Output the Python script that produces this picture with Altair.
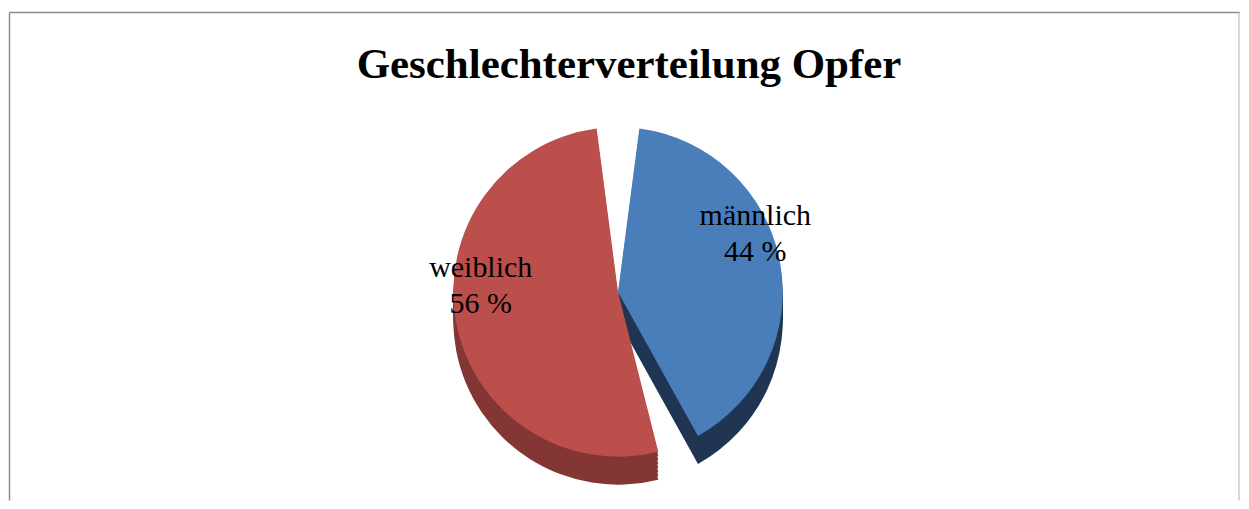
import altair as alt
import pandas as pd

categories = ["männlich", "weiblich"]
values = [44, 56]
labels = ["männlich\n44 %", "weiblich\n56 %"]
top_colors = ["#4A7EBB", "#BA4F4C"]
side_colors = ["#1F3552", "#833634"]

df = pd.DataFrame({"Geschlecht": categories, "Anteil": values,
                   "Label": labels, "Ordnung": [0, 1],
                   "Seite": [c + " Seite" for c in categories]})

W, H = 1233, 493
CX, CY = 610, 284
R = 165
PAD = 0.26

base = alt.Chart(df)

theta = alt.Theta("Anteil:Q", stack=True)
order = alt.Order("Ordnung:Q")

side_layers = []
for off in [4, 8, 12, 16, 20, 24, 28]:
    side_layers.append(
        base.mark_arc(radius=R, padAngle=PAD, yOffset=off).encode(
            theta=theta,
            order=order,
            color=alt.Color("Seite:N",
                            scale=alt.Scale(domain=[c + " Seite" for c in categories],
                                            range=side_colors),
                            legend=None),
            x=alt.value(CX), y=alt.value(CY),
        )
    )

top = base.mark_arc(radius=R, padAngle=PAD).encode(
    theta=theta,
    order=order,
    fill=alt.Fill("Geschlecht:N",
                  scale=alt.Scale(domain=categories, range=top_colors),
                  legend=None),
    x=alt.value(CX), y=alt.value(CY),
)

text = base.mark_text(radius=140, font="Liberation Serif", fontSize=30, dy=-50,
                      lineBreak="\n", color="black", lineHeight=36).encode(
    theta=theta,
    order=order,
    text="Label:N",
    x=alt.value(CX), y=alt.value(CY),
)

title = alt.Chart(pd.DataFrame({"t": ["Geschlechterverteilung Opfer"]})).mark_text(
    font="Liberation Serif", fontSize=43, fontWeight="bold", baseline="alphabetic",
    color="black").encode(text="t:N", x=alt.value(621), y=alt.value(70))

frame_df = pd.DataFrame({"k": [0]})
frame_top = alt.Chart(frame_df).mark_rule(color="#8c8c8c", strokeWidth=1.5).encode(
    x=alt.value(0), x2=alt.value(W), y=alt.value(4))
frame_left = alt.Chart(frame_df).mark_rule(color="#8c8c8c", strokeWidth=1.5).encode(
    x=alt.value(0.5), y=alt.value(4), y2=alt.value(H))
frame_right = alt.Chart(frame_df).mark_rule(color="#cccccc", strokeWidth=1.5).encode(
    x=alt.value(W - 1), y=alt.value(4), y2=alt.value(H))

chart = alt.layer(*side_layers, top, text, title, frame_top, frame_left, frame_right).properties(
    width=W, height=H, padding=0
).resolve_scale(color="independent", fill="independent").configure_view(stroke=None)

chart.save("out.html", embed_options={"renderer": "svg", "actions": False})
